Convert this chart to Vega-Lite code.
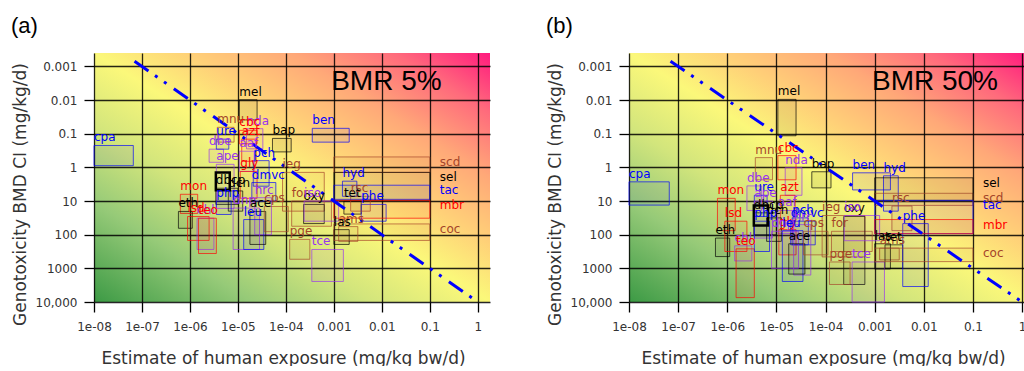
{
  "$schema": "https://vega.github.io/schema/vega-lite/v6.json",
  "padding": {"left": 11, "top": 15, "right": 0, "bottom": 0},
  "spacing": 56,
  "datasets": {
    "chem": [
      {"name":"cpa","cat":"blue","x1":1e-8,"x2":6.6e-8,"a_lo":0.224,"a_hi":0.891,"b_lo":2.69,"b_hi":13.2},
      {"name":"mel","cat":"black","x1":1.07e-5,"x2":2.51e-5,"a_lo":0.00977,"a_hi":0.0389,"b_lo":0.00955,"b_hi":0.115},
      {"name":"mnu","cat":"brown","x1":3.72e-6,"x2":8.32e-6,"a_lo":0.0646,"a_hi":0.178,"b_lo":0.513,"b_hi":2.34},
      {"name":"nda","cat":"purple","x1":1.51e-5,"x2":3.31e-5,"a_lo":0.0708,"a_hi":0.282,"b_lo":1.02,"b_hi":6.76},
      {"name":"cbc","cat":"red","x1":1.07e-5,"x2":2.51e-5,"a_lo":0.0794,"a_hi":0.2,"b_lo":0.447,"b_hi":2.34},
      {"name":"dbe","cat":"purple","x1":2.51e-6,"x2":5.01e-6,"a_lo":0.288,"a_hi":0.708,"b_lo":3.55,"b_hi":19.1},
      {"name":"ure","cat":"blue","x1":3.55e-6,"x2":6.46e-6,"a_lo":0.145,"a_hi":0.288,"b_lo":6.76,"b_hi":28.8},
      {"name":"azt","cat":"red","x1":1.2e-5,"x2":2.4e-5,"a_lo":0.145,"a_hi":0.661,"b_lo":6.76,"b_hi":38},
      {"name":"aaf","cat":"purple","x1":1.07e-5,"x2":2.19e-5,"a_lo":0.331,"a_hi":1.32,"b_lo":19.1,"b_hi":93.3},
      {"name":"pch","cat":"blue","x1":2.09e-5,"x2":4.47e-5,"a_lo":0.631,"a_hi":3.63,"b_lo":31.6,"b_hi":200},
      {"name":"ieg","cat":"brown","x1":8.51e-5,"x2":6.31e-4,"a_lo":1.41,"a_hi":20,"b_lo":26.9,"b_hi":457},
      {"name":"gly","cat":"red","x1":1.12e-5,"x2":2.51e-5,"a_lo":1.32,"a_hi":8.32,"b_lo":70.8,"b_hi":398},
      {"name":"dmvc","cat":"blue","x1":1.95e-5,"x2":6.17e-5,"a_lo":2.82,"a_hi":10,"b_lo":39.8,"b_hi":200},
      {"name":"ape","cat":"purple","x1":3.55e-6,"x2":8.32e-6,"a_lo":0.813,"a_hi":16.6,"b_lo":10,"b_hi":126},
      {"name":"","cat":"key","x1":3.47e-6,"x2":6.76e-6,"a_lo":1.41,"a_hi":4.79,"b_lo":13.5,"b_hi":53.7},
      {"name":"dcn","cat":"black","x1":6.31e-6,"x2":1.26e-5,"a_lo":5.01,"a_hi":20,"b_lo":31.6,"b_hi":158},
      {"name":"dbcp","cat":"black","x1":3.47e-6,"x2":1e-5,"a_lo":4.17,"a_hi":12.6,"b_lo":22.4,"b_hi":100},
      {"name":"mon","cat":"red","x1":6.31e-7,"x2":1.45e-6,"a_lo":6.31,"a_hi":23.4,"b_lo":8.32,"b_hi":75.9},
      {"name":"eth","cat":"black","x1":5.75e-7,"x2":1.12e-6,"a_lo":20.4,"a_hi":64.6,"b_lo":126,"b_hi":447},
      {"name":"lsd","cat":"red","x1":8.91e-7,"x2":2.51e-6,"a_lo":28.8,"a_hi":148,"b_lo":39.8,"b_hi":316},
      {"name":"chl","cat":"purple","x1":1.41e-6,"x2":3.16e-6,"a_lo":32.4,"a_hi":275,"b_lo":214,"b_hi":603},
      {"name":"teo","cat":"red","x1":1.51e-6,"x2":3.55e-6,"a_lo":32.4,"a_hi":363,"b_lo":263,"b_hi":7413},
      {"name":"php","cat":"blue","x1":3.55e-6,"x2":7.24e-6,"a_lo":10,"a_hi":25.1,"b_lo":39.8,"b_hi":316},
      {"name":"dnp","cat":"purple","x1":7.94e-6,"x2":2.82e-5,"a_lo":16.2,"a_hi":275,"b_lo":79.4,"b_hi":1000},
      {"name":"hrc","cat":"purple","x1":2.24e-5,"x2":5.01e-5,"a_lo":7.94,"a_hi":100,"b_lo":50.1,"b_hi":1585},
      {"name":"leu","cat":"blue","x1":1.32e-5,"x2":3.47e-5,"a_lo":35.5,"a_hi":275,"b_lo":75.9,"b_hi":2455},
      {"name":"ace","cat":"black","x1":1.78e-5,"x2":3.8e-5,"a_lo":20.4,"a_hi":195,"b_lo":186,"b_hi":1479},
      {"name":"cps","cat":"brown","x1":3.55e-5,"x2":1.12e-4,"a_lo":14.5,"a_hi":81.3,"b_lo":79.4,"b_hi":398},
      {"name":"for","cat":"brown","x1":1.32e-4,"x2":8.91e-4,"a_lo":10,"a_hi":56.2,"b_lo":79.4,"b_hi":316},
      {"name":"oxy","cat":"black","x1":2.34e-4,"x2":6.31e-4,"a_lo":12.6,"a_hi":46.8,"b_lo":28.8,"b_hi":3020},
      {"name":"iso","cat":"purple","x1":2.4e-4,"x2":1.26e-3,"a_lo":10,"a_hi":39.8,"b_lo":26.9,"b_hi":151},
      {"name":"pge","cat":"brown","x1":1.2e-4,"x2":3.16e-4,"a_lo":138,"a_hi":537,"b_lo":646,"b_hi":3020},
      {"name":"tce","cat":"purple","x1":3.47e-4,"x2":1.58e-3,"a_lo":275,"a_hi":2455,"b_lo":646,"b_hi":10000},
      {"name":"ams","cat":"brown","x1":1.26e-3,"x2":3.16e-3,"a_lo":57.5,"a_hi":158,"b_lo":251,"b_hi":562},
      {"name":"las","cat":"black","x1":1e-3,"x2":2.09e-3,"a_lo":70.8,"a_hi":195,"b_lo":186,"b_hi":1047},
      {"name":"tet","cat":"black","x1":1.62e-3,"x2":3.72e-3,"a_lo":10.2,"a_hi":24.5,"b_lo":200,"b_hi":1000},
      {"name":"phe","cat":"blue","x1":3.72e-3,"x2":1.23e-2,"a_lo":12.6,"a_hi":39.8,"b_lo":46.8,"b_hi":3467},
      {"name":"ben","cat":"blue","x1":3.55e-4,"x2":2.09e-3,"a_lo":0.0692,"a_hi":0.178,"b_lo":1.45,"b_hi":4.68},
      {"name":"bap","cat":"black","x1":5.25e-5,"x2":1.29e-4,"a_lo":0.138,"a_hi":0.347,"b_lo":1.35,"b_hi":4.07},
      {"name":"hyd","cat":"blue","x1":1.51e-3,"x2":3.02e-3,"a_lo":2.57,"a_hi":7.24,"b_lo":1.78,"b_hi":20},
      {"name":"rsc","cat":"brown","x1":2.24e-3,"x2":5.75e-3,"a_lo":7.24,"a_hi":20,"b_lo":14.1,"b_hi":75.9},
      {"name":"scd","cat":"brown","x1":1e-3,"x2":0.1,"a_lo":0.49,"a_hi":1.41,"b_lo":5.89,"b_hi":13.5},
      {"name":"sel","cat":"black","x1":1e-3,"x2":0.1,"a_lo":1.41,"a_hi":9.55,"b_lo":2.04,"b_hi":9.55},
      {"name":"tac","cat":"blue","x1":1e-3,"x2":0.1,"a_lo":3.39,"a_hi":8.91,"b_lo":9.55,"b_hi":93.3},
      {"name":"mbr","cat":"red","x1":1e-3,"x2":0.1,"a_lo":9.55,"a_hi":32.4,"b_lo":35.5,"b_hi":93.3},
      {"name":"coc","cat":"brown","x1":1e-3,"x2":0.1,"a_lo":47.9,"a_hi":148,"b_lo":251,"b_hi":631}
    ],
    "ref": [{"x": 7e-8, "y": 0.0007}, {"x": 1, "y": 10000}]
  },
  "hconcat": [
    {
      "width": 396, "height": 249,
      "title": {"text": "(a)", "anchor": "start", "frame": "bounds", "fontSize": 22, "font": "Liberation Sans", "fontWeight": "normal", "offset": 15, "color": "#000"},
      "layer": [
        {
          "data": {"name": "chem"},
          "transform": [{"filter": "datum.cat != 'key'"}],
          "mark": {"type": "rect", "fillOpacity": 0.06, "strokeWidth": 0.9, "strokeOpacity": 0.75},
          "encoding": {
            "x": {"field": "x1", "type": "quantitative", "scale": {"type": "log", "domain": [1e-8, 1.8], "nice": false},
                  "axis": {"values": [1e-8, 1e-7, 1e-6, 1e-5, 1e-4, 0.001, 0.01, 0.1, 1], "labelExpr": "datum.value < 0.0005 ? '1e-0' + round(-log(datum.value)/LN10) : format(datum.value, '~g')", "titleX": 189},
                  "title": "Estimate of human exposure (mg/kg bw/d)"},
            "x2": {"field": "x2"},
            "y": {"field": "a_lo", "type": "quantitative", "scale": {"type": "log", "domain": [0.0004, 10000], "nice": false, "reverse": true},
                  "axis": {"values": [0.001, 0.01, 0.1, 1, 10, 100, 1000, 10000], "labelExpr": "datum.value >= 10000 ? '10,000' : format(datum.value, '~g')", "titleY": 141},
                  "title": "Genotoxicity BMD CI (mg/kg/d)"},
            "y2": {"field": "a_hi"},
            "fill": {"field": "cat", "type": "nominal", "legend": null, "scale": {"domain": ["black", "red", "blue", "purple", "brown", "key"], "range": ["#000000", "#ff0000", "#0000ff", "#9933ee", "#a5452a", "#000000"]}},
            "stroke": {"field": "cat", "type": "nominal", "legend": null, "scale": {"domain": ["black", "red", "blue", "purple", "brown", "key"], "range": ["#000000", "#ff0000", "#0000ff", "#9933ee", "#a5452a", "#000000"]}}
          }
        },
        {
          "data": {"name": "chem"},
          "transform": [{"filter": "datum.cat == 'key'"}],
          "mark": {"type": "rect", "fill": null, "stroke": "#000000", "strokeWidth": 2.5},
          "encoding": {
            "x": {"field": "x1", "type": "quantitative", "scale": {"type": "log", "domain": [1e-8, 1.8], "nice": false}, "title": "Estimate of human exposure (mg/kg bw/d)"},
            "x2": {"field": "x2"},
            "y": {"field": "a_lo", "type": "quantitative", "scale": {"type": "log", "domain": [0.0004, 10000], "nice": false, "reverse": true}, "title": "Genotoxicity BMD CI (mg/kg/d)"},
            "y2": {"field": "a_hi"}
          }
        },
        {
          "data": {"name": "ref"},
          "mark": {"type": "line", "color": "#0000ff", "strokeWidth": 3, "strokeDash": [17, 8, 3, 8, 3, 9]},
          "encoding": {
            "x": {"field": "x", "type": "quantitative", "scale": {"type": "log", "domain": [1e-8, 1.8], "nice": false}, "title": "Estimate of human exposure (mg/kg bw/d)"},
            "y": {"field": "y", "type": "quantitative", "scale": {"type": "log", "domain": [0.0004, 10000], "nice": false, "reverse": true}, "title": "Genotoxicity BMD CI (mg/kg/d)"}
          }
        },
        {
          "data": {"name": "chem"},
          "transform": [{"filter": "datum.cat != 'key' && datum.x2 < 0.09"}],
          "mark": {"type": "text", "align": "left", "baseline": "bottom", "dy": -1, "font": "DejaVu Sans", "fontSize": 12},
          "encoding": {
            "x": {"field": "x1", "type": "quantitative", "scale": {"type": "log", "domain": [1e-8, 1.8], "nice": false}, "title": "Estimate of human exposure (mg/kg bw/d)"},
            "y": {"field": "a_lo", "type": "quantitative", "scale": {"type": "log", "domain": [0.0004, 10000], "nice": false, "reverse": true}, "title": "Genotoxicity BMD CI (mg/kg/d)"},
            "text": {"field": "name"},
            "color": {"field": "cat", "type": "nominal", "legend": null, "scale": {"domain": ["black", "red", "blue", "purple", "brown", "key"], "range": ["#000000", "#ff0000", "#0000ff", "#9933ee", "#a5452a", "#000000"]}}
          }
        },
        {
          "data": {"name": "chem"},
          "transform": [{"filter": "datum.x2 >= 0.09"}],
          "mark": {"type": "text", "align": "left", "baseline": "top", "dx": 10, "font": "DejaVu Sans", "fontSize": 12},
          "encoding": {
            "x": {"field": "x2", "type": "quantitative", "scale": {"type": "log", "domain": [1e-8, 1.8], "nice": false}, "title": "Estimate of human exposure (mg/kg bw/d)"},
            "y": {"field": "a_lo", "type": "quantitative", "scale": {"type": "log", "domain": [0.0004, 10000], "nice": false, "reverse": true}, "title": "Genotoxicity BMD CI (mg/kg/d)"},
            "text": {"field": "name"},
            "color": {"field": "cat", "type": "nominal", "legend": null, "scale": {"domain": ["black", "red", "blue", "purple", "brown", "key"], "range": ["#000000", "#ff0000", "#0000ff", "#9933ee", "#a5452a", "#000000"]}}
          }
        },
        {
          "data": {"values": [{"x": 0.00088, "y": 0.005, "t": "BMR 5%"}]},
          "mark": {"type": "text", "align": "left", "baseline": "alphabetic", "font": "Liberation Sans", "fontSize": 28, "color": "#000"},
          "encoding": {
            "x": {"field": "x", "type": "quantitative", "scale": {"type": "log", "domain": [1e-8, 1.8], "nice": false}, "title": "Estimate of human exposure (mg/kg bw/d)"},
            "y": {"field": "y", "type": "quantitative", "scale": {"type": "log", "domain": [0.0004, 10000], "nice": false, "reverse": true}, "title": "Genotoxicity BMD CI (mg/kg/d)"},
            "text": {"field": "t"}
          }
        }
      ]
    },
    {
      "width": 397, "height": 249,
      "title": {"text": "(b)", "anchor": "start", "frame": "bounds", "fontSize": 22, "font": "Liberation Sans", "fontWeight": "normal", "offset": 15, "color": "#000"},
      "layer": [
        {
          "data": {"name": "chem"},
          "transform": [{"filter": "datum.cat != 'key'"}],
          "mark": {"type": "rect", "fillOpacity": 0.06, "strokeWidth": 0.9, "strokeOpacity": 0.75},
          "encoding": {
            "x": {"field": "x1", "type": "quantitative", "scale": {"type": "log", "domain": [1e-8, 1.2], "nice": false},
                  "axis": {"values": [1e-8, 1e-7, 1e-6, 1e-5, 1e-4, 0.001, 0.01, 0.1, 1], "labelExpr": "datum.value < 0.0005 ? '1e-0' + round(-log(datum.value)/LN10) : format(datum.value, '~g')", "titleX": 194},
                  "title": "Estimate of human exposure (mg/kg bw/d)"},
            "x2": {"field": "x2"},
            "y": {"field": "b_lo", "type": "quantitative", "scale": {"type": "log", "domain": [0.0004, 10000], "nice": false, "reverse": true},
                  "axis": {"values": [0.001, 0.01, 0.1, 1, 10, 100, 1000, 10000], "labelExpr": "datum.value >= 10000 ? '10,000' : format(datum.value, '~g')", "titleY": 141},
                  "title": "Genotoxicity BMD CI (mg/kg/d)"},
            "y2": {"field": "b_hi"},
            "fill": {"field": "cat", "type": "nominal", "legend": null, "scale": {"domain": ["black", "red", "blue", "purple", "brown", "key"], "range": ["#000000", "#ff0000", "#0000ff", "#9933ee", "#a5452a", "#000000"]}},
            "stroke": {"field": "cat", "type": "nominal", "legend": null, "scale": {"domain": ["black", "red", "blue", "purple", "brown", "key"], "range": ["#000000", "#ff0000", "#0000ff", "#9933ee", "#a5452a", "#000000"]}}
          }
        },
        {
          "data": {"name": "chem"},
          "transform": [{"filter": "datum.cat == 'key'"}],
          "mark": {"type": "rect", "fill": null, "stroke": "#000000", "strokeWidth": 2.5},
          "encoding": {
            "x": {"field": "x1", "type": "quantitative", "scale": {"type": "log", "domain": [1e-8, 1.2], "nice": false}, "title": "Estimate of human exposure (mg/kg bw/d)"},
            "x2": {"field": "x2"},
            "y": {"field": "b_lo", "type": "quantitative", "scale": {"type": "log", "domain": [0.0004, 10000], "nice": false, "reverse": true}, "title": "Genotoxicity BMD CI (mg/kg/d)"},
            "y2": {"field": "b_hi"}
          }
        },
        {
          "data": {"name": "ref"},
          "mark": {"type": "line", "color": "#0000ff", "strokeWidth": 3, "strokeDash": [17, 8, 3, 8, 3, 9]},
          "encoding": {
            "x": {"field": "x", "type": "quantitative", "scale": {"type": "log", "domain": [1e-8, 1.2], "nice": false}, "title": "Estimate of human exposure (mg/kg bw/d)"},
            "y": {"field": "y", "type": "quantitative", "scale": {"type": "log", "domain": [0.0004, 10000], "nice": false, "reverse": true}, "title": "Genotoxicity BMD CI (mg/kg/d)"}
          }
        },
        {
          "data": {"name": "chem"},
          "transform": [{"filter": "datum.cat != 'key' && datum.x2 < 0.09"}],
          "mark": {"type": "text", "align": "left", "baseline": "bottom", "dy": -1, "font": "DejaVu Sans", "fontSize": 12},
          "encoding": {
            "x": {"field": "x1", "type": "quantitative", "scale": {"type": "log", "domain": [1e-8, 1.2], "nice": false}, "title": "Estimate of human exposure (mg/kg bw/d)"},
            "y": {"field": "b_lo", "type": "quantitative", "scale": {"type": "log", "domain": [0.0004, 10000], "nice": false, "reverse": true}, "title": "Genotoxicity BMD CI (mg/kg/d)"},
            "text": {"field": "name"},
            "color": {"field": "cat", "type": "nominal", "legend": null, "scale": {"domain": ["black", "red", "blue", "purple", "brown", "key"], "range": ["#000000", "#ff0000", "#0000ff", "#9933ee", "#a5452a", "#000000"]}}
          }
        },
        {
          "data": {"name": "chem"},
          "transform": [{"filter": "datum.x2 >= 0.09"}],
          "mark": {"type": "text", "align": "left", "baseline": "top", "dx": 10, "font": "DejaVu Sans", "fontSize": 12},
          "encoding": {
            "x": {"field": "x2", "type": "quantitative", "scale": {"type": "log", "domain": [1e-8, 1.2], "nice": false}, "title": "Estimate of human exposure (mg/kg bw/d)"},
            "y": {"field": "b_lo", "type": "quantitative", "scale": {"type": "log", "domain": [0.0004, 10000], "nice": false, "reverse": true}, "title": "Genotoxicity BMD CI (mg/kg/d)"},
            "text": {"field": "name"},
            "color": {"field": "cat", "type": "nominal", "legend": null, "scale": {"domain": ["black", "red", "blue", "purple", "brown", "key"], "range": ["#000000", "#ff0000", "#0000ff", "#9933ee", "#a5452a", "#000000"]}}
          }
        },
        {
          "data": {"values": [{"x": 0.00088, "y": 0.005, "t": "BMR 50%"}]},
          "mark": {"type": "text", "align": "left", "baseline": "alphabetic", "font": "Liberation Sans", "fontSize": 28, "color": "#000"},
          "encoding": {
            "x": {"field": "x", "type": "quantitative", "scale": {"type": "log", "domain": [1e-8, 1.2], "nice": false}, "title": "Estimate of human exposure (mg/kg bw/d)"},
            "y": {"field": "y", "type": "quantitative", "scale": {"type": "log", "domain": [0.0004, 10000], "nice": false, "reverse": true}, "title": "Genotoxicity BMD CI (mg/kg/d)"},
            "text": {"field": "t"}
          }
        }
      ]
    }
  ],
  "resolve": {"scale": {"x": "independent", "y": "independent"}},
  "config": {
    "view": {"stroke": null, "fill": {"gradient": "linear", "x1": 0, "y1": 1, "x2": 1, "y2": 0, "stops": [
      {"offset": 0, "color": "#3c9a45"},
      {"offset": 0.2, "color": "#96ca78"},
      {"offset": 0.35, "color": "#d2e57c"},
      {"offset": 0.5, "color": "#fbf87a"},
      {"offset": 0.62, "color": "#ffd078"},
      {"offset": 0.75, "color": "#ffa878"},
      {"offset": 0.88, "color": "#ff6a7c"},
      {"offset": 1, "color": "#ff1a7e"}
    ]}},
    "axis": {"domain": false, "grid": true, "gridColor": "#000000", "gridOpacity": 0.85, "gridWidth": 1.3, "tickColor": "#000000", "tickWidth": 1.3, "tickSize": 10, "labelFont": "DejaVu Sans", "labelFontSize": 12, "labelColor": "#333333", "labelOverlap": false, "titleFont": "DejaVu Sans", "titleFontWeight": "normal", "titleColor": "#333333"},
    "axisX": {"labelPadding": 9, "titlePadding": 18, "labelFlush": false, "titleFontSize": 17},
    "axisY": {"labelPadding": 7, "titlePadding": 6, "titleFontSize": 17}
  }
}
